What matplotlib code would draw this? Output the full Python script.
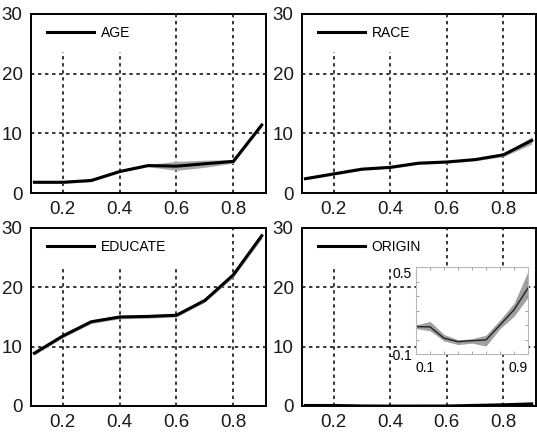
import matplotlib
matplotlib.use("Agg")
from matplotlib import pyplot as plt

## dados

# eixo x comum (quantis)
quantis = [0.1, 0.2, 0.3, 0.4, 0.5, 0.6, 0.7, 0.8, 0.9]

# AGE
age = [1.8, 1.8, 2.1, 3.6, 4.6, 4.5, 4.9, 5.3, 11.4]
age_inf = [1.6, 1.6, 1.9, 3.4, 4.4, 3.8, 4.3, 5.0, 11.1]
age_sup = [2.0, 2.0, 2.3, 3.8, 4.8, 5.3, 5.5, 5.6, 11.7]

# RACE
race = [2.4, 3.2, 4.0, 4.3, 5.0, 5.2, 5.6, 6.4, 8.8]
race_inf = [2.2, 3.0, 3.8, 4.1, 4.8, 5.0, 5.4, 6.1, 8.2]
race_sup = [2.6, 3.4, 4.2, 4.5, 5.2, 5.4, 5.8, 6.7, 9.4]

# EDUCATE
educate = [8.9, 11.8, 14.2, 15.0, 15.1, 15.3, 17.8, 22.1, 28.7]
educate_inf = [8.6, 11.5, 13.9, 14.7, 14.8, 15.0, 17.5, 21.7, 28.2]
educate_sup = [9.2, 12.1, 14.5, 15.3, 15.4, 15.6, 18.1, 22.5, 29.2]

# ORIGIN
origin = [0.089, 0.087, 0.009, -0.015, -0.008, -0.003, 0.10, 0.205, 0.355]
origin_inf = [0.075, 0.06, -0.01, -0.035, -0.025, -0.045, 0.075, 0.16, 0.29]
origin_sup = [0.10, 0.125, 0.035, -0.002, 0.005, 0.03, 0.135, 0.25, 0.47]

nomes = ["AGE", "RACE", "EDUCATE", "ORIGIN"]
series = [age, race, educate, origin]
inferiores = [age_inf, race_inf, educate_inf, origin_inf]
superiores = [age_sup, race_sup, educate_sup, origin_sup]

xticks = [0.2, 0.4, 0.6, 0.8]
yticks = [0, 10, 20, 30]

## figura

plt.rcParams['font.family'] = ['Liberation Sans', 'DejaVu Sans']
fig = plt.figure(figsize=(5.37, 4.34), dpi=100)

# posicoes dos paineis em fracao da figura
W, H = 537, 434
posicoes = [
    (31/W, 1 - 193/H, 235/W, 179/H),
    (302/W, 1 - 193/H, 234/W, 179/H),
    (31/W, 1 - 406/H, 235/W, 178/H),
    (302/W, 1 - 406/H, 234/W, 178/H),
]

for i in range(4):
    ax = fig.add_axes(posicoes[i])
    ax.fill_between(quantis, inferiores[i], superiores[i], color="#a8a8a8", linewidth=0, zorder=2)
    ax.plot(quantis, series[i], color="black", linewidth=2.2, label=nomes[i], zorder=3)
    ax.set_xlim(0.088, 0.915)
    ax.set_ylim(0, 30)
    ax.set_xticks(xticks)
    ax.set_yticks(yticks)
    ax.set_xticklabels([str(t) for t in xticks])
    ax.grid(True, color="black", linestyle=(0, (2.2, 2.4)), linewidth=1.1, zorder=1)
    ax.set_axisbelow(True)
    ax.tick_params(direction="in", length=0, labelsize=13.5, labelcolor="#1a1a1a", pad=6)
    for s in ax.spines.values():
        s.set_linewidth(1.4)
        s.set_zorder(6)
    # legenda sem moldura, mas com fundo branco por cima do grid
    leg = ax.legend(loc="upper left", bbox_to_anchor=(0.018, 1), borderaxespad=0, fontsize=10,
                    handlelength=3.4, handletextpad=0.45, borderpad=0.85,
                    frameon=True, fancybox=False, framealpha=1, facecolor="white", edgecolor="none")
    leg.set_zorder(5)

# grafico interno com zoom no ORIGIN
ax_in = fig.add_axes((416/W, 1 - 354/H, 112/W, 87/H))
ax_in.fill_between(quantis, origin_inf, origin_sup, color="#a0a0a0", linewidth=0)
ax_in.plot(quantis, origin, color="#202020", linewidth=1)
ax_in.set_xlim(0.1, 0.9)
ax_in.set_ylim(-0.1, 0.5)
ax_in.set_xticks([0.1, 0.2, 0.3, 0.4, 0.5, 0.6, 0.7, 0.8, 0.9])
ax_in.set_xticklabels(["0.1", "", "", "", "", "", "", "", "0.9"])
ax_in.set_yticks([-0.1, 0.0, 0.1, 0.2, 0.3, 0.4, 0.5])
ax_in.set_yticklabels(["-0.1", "", "", "", "", "", "0.5"])
ax_in.tick_params(direction="in", length=2, width=0.6, color="#909090", labelsize=10,
                  top=True, right=True, pad=3)
ax_in.tick_params(axis="x", pad=5)
xl = ax_in.get_xticklabels()
xl[0].set_ha("left")
xl[-1].set_ha("right")
ax_in.get_yticklabels()[-1].set_va("top")
for s in ax_in.spines.values():
    s.set_color("#b8b8b8")
    s.set_linewidth(0.8)

plt.savefig("out.png", dpi=100)
